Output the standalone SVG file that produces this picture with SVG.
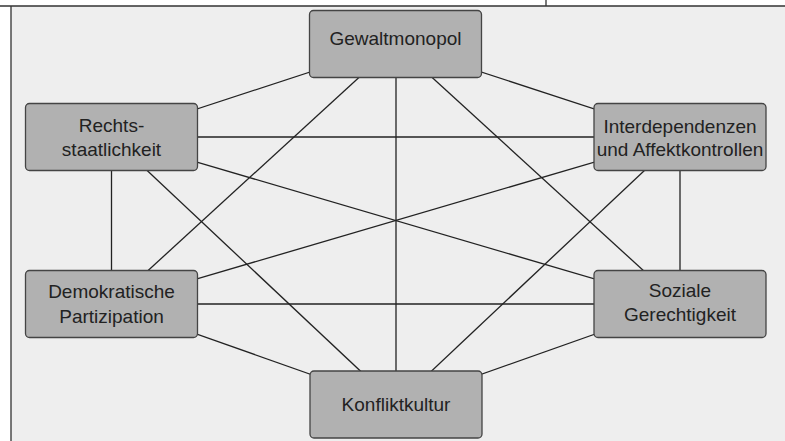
<svg xmlns="http://www.w3.org/2000/svg" width="785" height="441" viewBox="0 0 785 441">
<style>
.bg{fill:#eeeeee;stroke:none}
.frame{stroke:#333;stroke-width:1.3;fill:none}
.edge{stroke:#222;stroke-width:1.3;fill:none}
.box{fill:#b1b1b1;stroke:#444;stroke-width:1.3}
.lbl{font-family:"Liberation Sans",Arial,sans-serif;font-size:19px;fill:#222;text-anchor:middle}
</style>
<rect x="0" y="0" width="785" height="441" fill="#ffffff"/>
<rect class="bg" x="11" y="6" width="774" height="435"/>
<path class="frame" d="M0 6 H785 M11 6 V441 M546 0 V6"/>
<g id="connectors">
<line class="edge" x1="395.5" y1="44" x2="111.5" y2="137"/>
<line class="edge" x1="395.5" y1="44" x2="680" y2="137"/>
<line class="edge" x1="395.5" y1="44" x2="111.5" y2="304"/>
<line class="edge" x1="395.5" y1="44" x2="680" y2="304"/>
<line class="edge" x1="396" y1="44" x2="396" y2="404.5"/>
<line class="edge" x1="111.5" y1="137" x2="680" y2="137"/>
<line class="edge" x1="111.5" y1="137" x2="111.5" y2="304"/>
<line class="edge" x1="111.5" y1="137" x2="680" y2="304"/>
<line class="edge" x1="111.5" y1="137" x2="396" y2="404.5"/>
<line class="edge" x1="680" y1="137" x2="111.5" y2="304"/>
<line class="edge" x1="680" y1="137" x2="680" y2="304"/>
<line class="edge" x1="680" y1="137" x2="396" y2="404.5"/>
<line class="edge" x1="111.5" y1="304" x2="680" y2="304"/>
<line class="edge" x1="111.5" y1="304" x2="396" y2="404.5"/>
<line class="edge" x1="680" y1="304" x2="396" y2="404.5"/>
</g>
<g id="gewaltmonopol">
<rect class="box" x="309.5" y="10.5" width="172" height="67" rx="4"/>
<text class="lbl" x="395.5" y="45">Gewaltmonopol</text>
</g>
<g id="rechtsstaatlichkeit">
<rect class="box" x="25.5" y="103.5" width="172" height="67" rx="4"/>
<text class="lbl" x="111.5" y="131.5">Rechts-</text>
<text class="lbl" x="111.5" y="155.5">staatlichkeit</text>
</g>
<g id="interdependenzen">
<rect class="box" x="594" y="103.5" width="172" height="67" rx="4"/>
<text class="lbl" x="680" y="133">Interdependenzen</text>
<text class="lbl" x="680" y="156">und Affektkontrollen</text>
</g>
<g id="demokratische">
<rect class="box" x="25.5" y="270.5" width="172" height="67" rx="4"/>
<text class="lbl" x="111.5" y="298">Demokratische</text>
<text class="lbl" x="111.5" y="322.5">Partizipation</text>
</g>
<g id="soziale">
<rect class="box" x="594" y="270.5" width="172" height="67" rx="4"/>
<text class="lbl" x="680" y="296.5">Soziale</text>
<text class="lbl" x="680" y="320.5">Gerechtigkeit</text>
</g>
<g id="konfliktkultur">
<rect class="box" x="310" y="371" width="172" height="67" rx="4"/>
<text class="lbl" x="396" y="411">Konfliktkultur</text>
</g>
</svg>
